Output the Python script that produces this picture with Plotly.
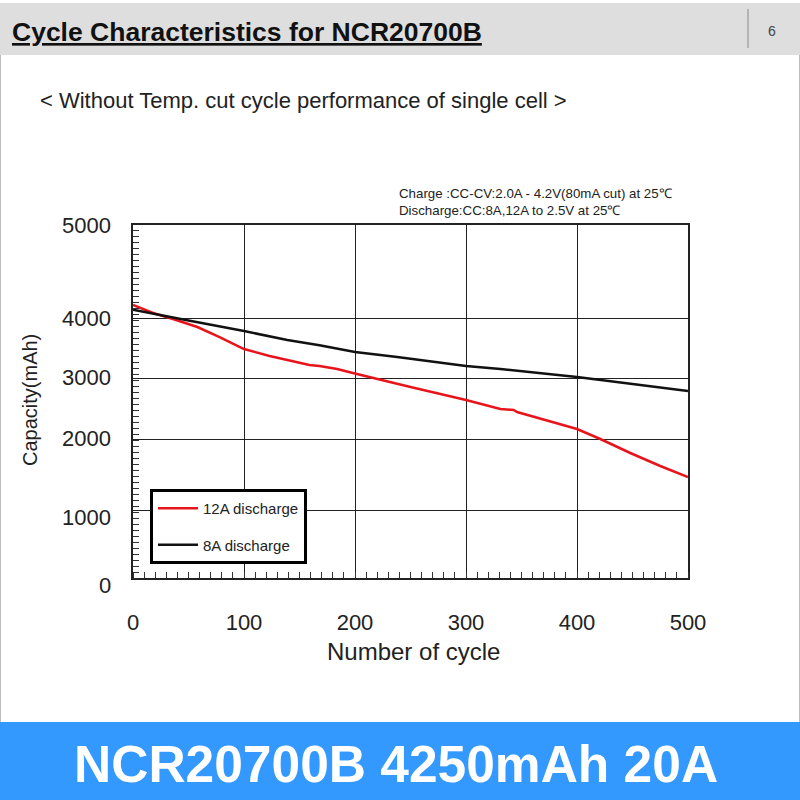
import numpy as np
import plotly.graph_objects as go

# ---------------- data ----------------
cycles_12a = [0, 18, 36, 58, 78, 100, 123, 144, 159, 168, 184, 198, 216, 250, 300, 331, 343, 346, 400, 421, 448, 475, 500]
cap_12a = [4140, 4054, 3983, 3850, 3683, 3483, 3367, 3283, 3217, 3200, 3150, 3083, 3000, 2852, 2639, 2492, 2475, 2443, 2164, 2000, 1803, 1620, 1465]

cycles_8a = [0, 20, 50, 100, 139, 168, 200, 238, 300, 331, 400, 450, 500]
cap_8a = [4090, 4040, 3958, 3783, 3633, 3545, 3433, 3350, 3200, 3150, 3017, 2902, 2787]

series_names = ["12A discharge", "8A discharge"]
x_ticks = [0, 100, 200, 300, 400, 500]
y_tick_text = ["0", "1000", "2000", "3000", "4000", "5000"]

# The printed chart uses a non-uniform capacity scale; map mAh -> axis units
Y_SCALE_MAH = [0, 1000, 2000, 3000, 4000, 5000]
Y_SCALE_POS = [0, 68, 139, 200, 260, 353]
Y_LABEL_POS = [-7, 61, 139, 200, 260, 353]   # label offsets as printed on the slide


def ymap(v):
    return np.interp(np.asarray(v, dtype=float), Y_SCALE_MAH, Y_SCALE_POS)


FONT = "Liberation Sans, Arial, sans-serif"
W = H = 800
PLOT_L, PLOT_R, PLOT_T, PLOT_B = 133, 688, 225, 578


def px(x):
    return x / W


def py(y):
    return 1 - y / H


fig = go.Figure()
fig.add_trace(go.Scatter(x=cycles_12a, y=ymap(cap_12a), mode="lines", name=series_names[0],
                         line=dict(color="#e8141b", width=2.5), legendgroup="a"))
fig.add_trace(go.Scatter(x=cycles_8a, y=ymap(cap_8a), mode="lines", name=series_names[1],
                         line=dict(color="#111111", width=2.5), legendgroup="b"))

shapes = []
# header bar
shapes.append(dict(type="rect", xref="paper", yref="paper", x0=0, x1=1, y0=py(55), y1=py(3),
                   fillcolor="#dedede", line=dict(width=0), layer="below"))
shapes.append(dict(type="line", xref="paper", yref="paper", x0=px(748), x1=px(748), y0=py(48), y1=py(9),
                   line=dict(color="#8a8a8a", width=1)))
# slide side borders
shapes.append(dict(type="line", xref="paper", yref="paper", x0=px(0.5), x1=px(0.5), y0=py(722), y1=py(55),
                   line=dict(color="#bdbdbd", width=1)))
shapes.append(dict(type="line", xref="paper", yref="paper", x0=px(799.5), x1=px(799.5), y0=py(722), y1=py(55),
                   line=dict(color="#bdbdbd", width=1)))
# bottom banner
shapes.append(dict(type="rect", xref="paper", yref="paper", x0=0, x1=1, y0=0, y1=py(722),
                   fillcolor="#3399ff", line=dict(width=0), layer="below"))

annotations = []
annotations.append(dict(text="<b><u>Cycle Characteristics for NCR20700B</u></b>", x=px(10), y=py(32),
                        xref="paper", yref="paper", xanchor="left", yanchor="middle", showarrow=False,
                        font=dict(family=FONT, size=26.5, color="#111")))
annotations.append(dict(text="6", x=px(772), y=py(31), xref="paper", yref="paper", showarrow=False,
                        xanchor="center", yanchor="middle", font=dict(family=FONT, size=14, color="#444")))
annotations.append(dict(text="< Without Temp. cut cycle performance of single cell >", x=px(38), y=py(101),
                        xref="paper", yref="paper", xanchor="left", yanchor="middle", showarrow=False,
                        font=dict(family=FONT, size=22, color="#222")))
annotations.append(dict(text="Charge :CC-CV:2.0A - 4.2V(80mA cut) at 25\u2103<br>Discharge:CC:8A,12A to 2.5V at 25\u2103",
                        x=px(397), y=py(202), xref="paper", yref="paper", xanchor="left", yanchor="middle",
                        align="left", showarrow=False, font=dict(family=FONT, size=13.3, color="#222")))
annotations.append(dict(text="<b>NCR20700B 4250mAh 20A</b>", x=px(396), y=py(764), xref="paper", yref="paper",
                        xanchor="center", yanchor="middle", showarrow=False,
                        font=dict(family=FONT, size=51.5, color="white")))
annotations.append(dict(text="Capacity(mAh)", x=px(30), y=py(400), xref="paper", yref="paper", textangle=-90,
                        xanchor="center", yanchor="middle", showarrow=False,
                        font=dict(family=FONT, size=20, color="#222")))
annotations.append(dict(text="Number of cycle", x=px(413), y=py(651), xref="paper", yref="paper",
                        xanchor="center", yanchor="middle", showarrow=False,
                        font=dict(family=FONT, size=24, color="#222")))
# y tick labels (placed in paper space so the "0" below the axis bottom is kept)
for t, yp in zip(y_tick_text, Y_LABEL_POS):
    ypix = PLOT_B - yp * (PLOT_B - PLOT_T) / Y_SCALE_POS[-1]
    annotations.append(dict(text=t, x=px(113), y=py(ypix), xref="paper", yref="paper", xanchor="right",
                            yanchor="middle", showarrow=False, font=dict(family=FONT, size=22, color="#222")))

fig.update_layout(
    width=W, height=H, autosize=False,
    margin=dict(l=0, r=0, t=0, b=0, pad=0, autoexpand=False),
    paper_bgcolor="white", plot_bgcolor="white",
    font=dict(family=FONT, color="#222"),
    shapes=shapes, annotations=annotations,
    showlegend=True,
    legend=dict(x=px(150), y=py(489), xanchor="left", yanchor="top", bordercolor="black", borderwidth=3,
                bgcolor="white", font=dict(family=FONT, size=15, color="#222"), tracegroupgap=14,
                itemwidth=40),
    xaxis=dict(domain=[px(PLOT_L), px(PLOT_R)], range=[0, 500], tickvals=x_ticks, automargin=False,
               tickfont=dict(family=FONT, size=22, color="#222"), ticks="", ticklabelstandoff=24,
               showgrid=True, gridcolor="#222", gridwidth=1, zeroline=False,
               showline=True, linecolor="#222", linewidth=1.5, mirror=True,
               minor=dict(dtick=10, tick0=0, ticks="inside", ticklen=6, tickcolor="#333", showgrid=False)),
    yaxis=dict(domain=[py(PLOT_B), py(PLOT_T)], range=[0, Y_SCALE_POS[-1]], tickvals=Y_SCALE_POS[1:-1],
               showticklabels=False, automargin=False,
               ticks="", showgrid=True, gridcolor="#222", gridwidth=1, zeroline=False,
               showline=True, linecolor="#222", linewidth=1.5, mirror=True,
               minor=dict(dtick=6, tick0=0, ticks="inside", ticklen=6, tickcolor="#333", showgrid=False)),
)

fig.write_html("out.html", config={"responsive": False, "displayModeBar": False},
               post_script="document.body.style.margin='0';document.body.style.overflow='hidden';"
                           "document.documentElement.style.overflow='hidden';")
